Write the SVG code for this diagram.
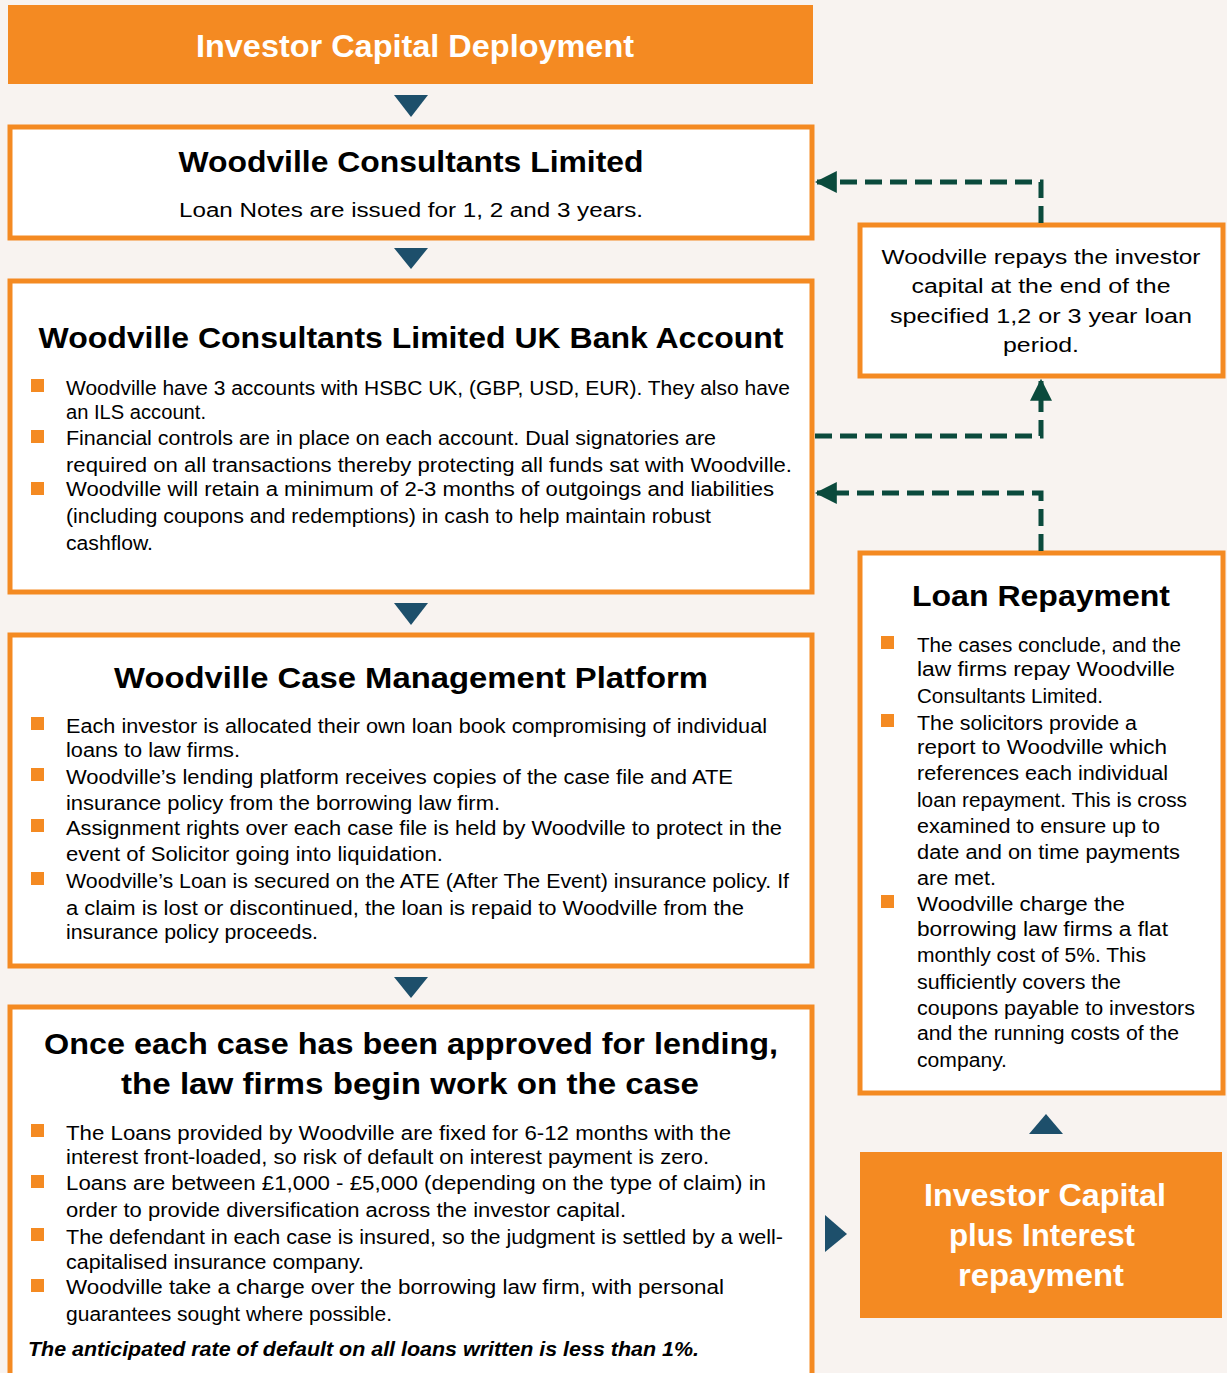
<svg xmlns="http://www.w3.org/2000/svg" width="1227" height="1373" viewBox="0 0 1227 1373">
<defs>
<style>
.box{fill:#ffffff;stroke:#f48a22;stroke-width:5}
.solid{fill:#f48a22}
.tri{fill:#1d4f6b}
.t{font-family:"Liberation Sans",Arial,sans-serif;fill:#000}
.title{font-size:30px;font-weight:bold;text-anchor:middle}
.body{font-size:20px}
.ctr{text-anchor:middle}
.wt{fill:#ffffff;font-weight:bold;text-anchor:middle}
.bul{fill:#f48a22}
.conn{fill:none;stroke:#0b4a3c;stroke-width:5;stroke-dasharray:17 8}
</style>
<marker id="ah" viewBox="0 0 10 10" refX="9" refY="5" markerWidth="4.4" markerHeight="4.4" orient="auto" markerUnits="strokeWidth">
<path d="M0,0 L10,5 L0,10 z" fill="#0b4a3c"/>
</marker>
</defs>
<rect x="0" y="0" width="1227" height="1373" fill="#f8f3f0"/>

<g id="n-deploy">
<rect class="solid" x="8" y="5" width="805" height="79"/>
<text class="t wt" x="415" y="57" font-size="31" textLength="438" lengthAdjust="spacingAndGlyphs">Investor Capital Deployment</text>
</g>

<g id="arrows-flow">
<polygon class="tri" points="394,95 428,95 411,117"/>
<polygon class="tri" points="394,248 428,248 411,269"/>
<polygon class="tri" points="394,603 428,603 411,625"/>
<polygon class="tri" points="394,977 428,977 411,998"/>
<polygon class="tri" points="1029,1134 1063,1134 1046,1114"/>
<polygon class="tri" points="825,1215 825,1252 847,1234"/>
</g>

<g id="n-wcl">
<rect class="box" x="10" y="127" width="802" height="111"/>
<text class="t title" x="411" y="172" textLength="465" lengthAdjust="spacingAndGlyphs">Woodville Consultants Limited</text>
<text class="t body ctr" x="411" y="217" font-size="21" textLength="464" lengthAdjust="spacingAndGlyphs">Loan Notes are issued for 1, 2 and 3 years.</text>
</g>

<g id="n-bank">
<rect class="box" x="10" y="281" width="802" height="311"/>
<text class="t title" x="411" y="348" textLength="745" lengthAdjust="spacingAndGlyphs">Woodville Consultants Limited UK Bank Account</text>
<rect class="bul" x="31" y="379" width="13" height="13"/>
<rect class="bul" x="31" y="430" width="13" height="13"/>
<rect class="bul" x="31" y="482" width="13" height="13"/>
<g class="t body">
<text x="66" y="395" textLength="724" lengthAdjust="spacingAndGlyphs">Woodville have 3 accounts with HSBC UK, (GBP, USD, EUR). They also have</text>
<text x="66" y="419" textLength="140" lengthAdjust="spacingAndGlyphs">an ILS account.</text>
<text x="66" y="445" textLength="650" lengthAdjust="spacingAndGlyphs">Financial controls are in place on each account. Dual signatories are</text>
<text x="66" y="472" textLength="726" lengthAdjust="spacingAndGlyphs">required on all transactions thereby protecting all funds sat with Woodville.</text>
<text x="66" y="496" textLength="708" lengthAdjust="spacingAndGlyphs">Woodville will retain a minimum of 2-3 months of outgoings and liabilities</text>
<text x="66" y="523" textLength="645" lengthAdjust="spacingAndGlyphs">(including coupons and redemptions) in cash to help maintain robust</text>
<text x="66" y="550" textLength="87" lengthAdjust="spacingAndGlyphs">cashflow.</text>
</g>
</g>

<g id="n-platform">
<rect class="box" x="10" y="635" width="802" height="331"/>
<text class="t title" x="411" y="688" textLength="594" lengthAdjust="spacingAndGlyphs">Woodville Case Management Platform</text>
<rect class="bul" x="31" y="717" width="13" height="13"/>
<rect class="bul" x="31" y="768" width="13" height="13"/>
<rect class="bul" x="31" y="819" width="13" height="13"/>
<rect class="bul" x="31" y="872" width="13" height="13"/>
<g class="t body">
<text x="66" y="733" textLength="701" lengthAdjust="spacingAndGlyphs">Each investor is allocated their own loan book compromising of individual</text>
<text x="66" y="757" textLength="174" lengthAdjust="spacingAndGlyphs">loans to law firms.</text>
<text x="66" y="784" textLength="667" lengthAdjust="spacingAndGlyphs">Woodville’s lending platform receives copies of the case file and ATE</text>
<text x="66" y="810" textLength="434" lengthAdjust="spacingAndGlyphs">insurance policy from the borrowing law firm.</text>
<text x="66" y="835" textLength="716" lengthAdjust="spacingAndGlyphs">Assignment rights over each case file is held by Woodville to protect in the</text>
<text x="66" y="861" textLength="377" lengthAdjust="spacingAndGlyphs">event of Solicitor going into liquidation.</text>
<text x="66" y="888" textLength="723" lengthAdjust="spacingAndGlyphs">Woodville’s Loan is secured on the ATE (After The Event) insurance policy. If</text>
<text x="66" y="915" textLength="678" lengthAdjust="spacingAndGlyphs">a claim is lost or discontinued, the loan is repaid to Woodville from the</text>
<text x="66" y="939" textLength="252" lengthAdjust="spacingAndGlyphs">insurance policy proceeds.</text>
</g>
</g>

<g id="n-lending">
<rect class="box" x="10" y="1007" width="802" height="390"/>
<text class="t title" x="411" y="1054" font-size="32" textLength="734" lengthAdjust="spacingAndGlyphs">Once each case has been approved for lending,</text>
<text class="t title" x="410" y="1094" font-size="32" textLength="578" lengthAdjust="spacingAndGlyphs">the law firms begin work on the case</text>
<rect class="bul" x="31" y="1124" width="13" height="13"/>
<rect class="bul" x="31" y="1175" width="13" height="13"/>
<rect class="bul" x="31" y="1228" width="13" height="13"/>
<rect class="bul" x="31" y="1279" width="13" height="13"/>
<g class="t body">
<text x="66" y="1140" textLength="665" lengthAdjust="spacingAndGlyphs">The Loans provided by Woodville are fixed for 6-12 months with the</text>
<text x="66" y="1164" textLength="643" lengthAdjust="spacingAndGlyphs">interest front-loaded, so risk of default on interest payment is zero.</text>
<text x="66" y="1190" textLength="700" lengthAdjust="spacingAndGlyphs">Loans are between £1,000 - £5,000 (depending on the type of claim) in</text>
<text x="66" y="1217" textLength="560" lengthAdjust="spacingAndGlyphs">order to provide diversification across the investor capital.</text>
<text x="66" y="1244" textLength="717" lengthAdjust="spacingAndGlyphs">The defendant in each case is insured, so the judgment is settled by a well-</text>
<text x="66" y="1269" textLength="298" lengthAdjust="spacingAndGlyphs">capitalised insurance company.</text>
<text x="66" y="1294" textLength="658" lengthAdjust="spacingAndGlyphs">Woodville take a charge over the borrowing law firm, with personal</text>
<text x="66" y="1321" textLength="326" lengthAdjust="spacingAndGlyphs">guarantees sought where possible.</text>
</g>
<text class="t" x="28" y="1356" font-size="21" font-weight="bold" font-style="italic" textLength="671" lengthAdjust="spacingAndGlyphs">The anticipated rate of default on all loans written is less than 1%.</text>
</g>

<g id="n-repays">
<rect class="box" x="860" y="225" width="363" height="151"/>
<g class="t body ctr" font-size="21">
<text x="1041" y="264" textLength="319" lengthAdjust="spacingAndGlyphs">Woodville repays the investor</text>
<text x="1041" y="293" textLength="259" lengthAdjust="spacingAndGlyphs">capital at the end of the</text>
<text x="1041" y="323" textLength="302" lengthAdjust="spacingAndGlyphs">specified 1,2 or 3 year loan</text>
<text x="1041" y="352" textLength="76" lengthAdjust="spacingAndGlyphs">period.</text>
</g>
</g>

<g id="n-loanrepay">
<rect class="box" x="860" y="553" width="363" height="540"/>
<text class="t title" x="1041" y="606" textLength="258" lengthAdjust="spacingAndGlyphs">Loan Repayment</text>
<rect class="bul" x="881" y="636" width="13" height="13"/>
<rect class="bul" x="881" y="714" width="13" height="13"/>
<rect class="bul" x="881" y="895" width="13" height="13"/>
<g class="t body">
<text x="917" y="652" textLength="264" lengthAdjust="spacingAndGlyphs">The cases conclude, and the</text>
<text x="917" y="676" textLength="258" lengthAdjust="spacingAndGlyphs">law firms repay Woodville</text>
<text x="917" y="703" textLength="186" lengthAdjust="spacingAndGlyphs">Consultants Limited.</text>
<text x="917" y="730" textLength="220" lengthAdjust="spacingAndGlyphs">The solicitors provide a</text>
<text x="917" y="754" textLength="250" lengthAdjust="spacingAndGlyphs">report to Woodville which</text>
<text x="917" y="780" textLength="251" lengthAdjust="spacingAndGlyphs">references each individual</text>
<text x="917" y="807" textLength="270" lengthAdjust="spacingAndGlyphs">loan repayment. This is cross</text>
<text x="917" y="833" textLength="243" lengthAdjust="spacingAndGlyphs">examined to ensure up to</text>
<text x="917" y="859" textLength="263" lengthAdjust="spacingAndGlyphs">date and on time payments</text>
<text x="917" y="885" textLength="79" lengthAdjust="spacingAndGlyphs">are met.</text>
<text x="917" y="911" textLength="208" lengthAdjust="spacingAndGlyphs">Woodville charge the</text>
<text x="917" y="936" textLength="251" lengthAdjust="spacingAndGlyphs">borrowing law firms a flat</text>
<text x="917" y="962" textLength="229" lengthAdjust="spacingAndGlyphs">monthly cost of 5%. This</text>
<text x="917" y="989" textLength="204" lengthAdjust="spacingAndGlyphs">sufficiently covers the</text>
<text x="917" y="1015" textLength="278" lengthAdjust="spacingAndGlyphs">coupons payable to investors</text>
<text x="917" y="1040" textLength="262" lengthAdjust="spacingAndGlyphs">and the running costs of the</text>
<text x="917" y="1067" textLength="90" lengthAdjust="spacingAndGlyphs">company.</text>
</g>
</g>

<g id="n-interest">
<rect class="solid" x="860" y="1152" width="362" height="166"/>
<g class="t wt" font-size="31">
<text x="1045" y="1206" textLength="242" lengthAdjust="spacingAndGlyphs">Investor Capital</text>
<text x="1042" y="1246" textLength="186" lengthAdjust="spacingAndGlyphs">plus Interest</text>
<text x="1041" y="1286" textLength="166" lengthAdjust="spacingAndGlyphs">repayment</text>
</g>
</g>

<g id="connectors">
<path class="conn" d="M1041,223 V182 H817" marker-end="url(#ah)"/>
<path class="conn" d="M815,436 H1041 V381" marker-end="url(#ah)"/>
<path class="conn" d="M1041,551 V493 H817" marker-end="url(#ah)"/>
</g>
</svg>
